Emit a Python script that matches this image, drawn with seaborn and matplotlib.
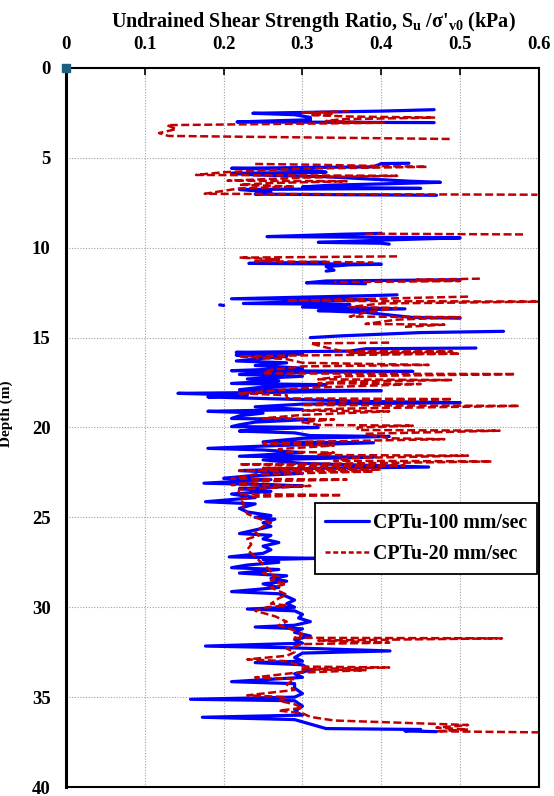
import numpy as np
import pandas as pd
import matplotlib
matplotlib.use("Agg")
import matplotlib.pyplot as plt
from matplotlib.lines import Line2D
import seaborn as sns

nan = np.nan

# CPTu at 100 mm/sec: depth (m) and Su/sigma'v0, NaN marks a break in the record
depth_100 = [2.32, 2.40, 2.52, 2.60, 2.75, 2.88, 3.00, 3.04, nan,
             5.30, 5.32, 5.50, 5.58, 5.65, 5.80, 5.86, 5.95, 6.05, 6.30, 6.36, 6.45, 6.52, 6.62, 6.70, 6.76, 6.90, 7.02, 7.08, nan,
             9.20, 9.25, 9.38, 9.45, 9.55, 9.70, 9.75, 9.80, nan,
             10.80, 10.87, 10.92, 10.95, 11.05, 11.25, 11.30, nan,
             11.78, 11.85, 11.95, 12.00, nan,
             12.62, 12.66, 12.84, 12.88, 13.10, 13.15, 13.30, 13.40, 13.50, 13.60, 13.88, 13.92, nan,
             13.18, 13.21, nan,
             14.65, 14.72, 14.90, 15.00, nan,
             15.58, 15.62, 15.75, 15.82, 15.90, 15.97, 16.05, 16.15, 16.30, 16.40, 16.55, 16.70, 16.84, 16.88,
             16.95, 17.05, 17.15, 17.30, 17.40, 17.55, 17.62, 17.75, 17.90, 17.95, 18.05, 18.10, 18.20, 18.30,
             18.40, 18.55, 18.62, 18.70, 18.85, 19.00, 19.10, 19.20, 19.35, 19.50, 19.55, 19.70, 19.85, 19.95,
             20.00, 20.10, 20.20, 20.30, 20.45, 20.50, 20.60, 20.80, 20.85, 21.00, 21.16, 21.25, 21.40, 21.60,
             21.65, 21.80, 22.00, 22.20, 22.27, 22.40, 22.55, 22.70, 22.83, 22.90, 23.10, 23.18, 23.25, 23.40,
             23.55, 23.70, 23.90, 24.13, 24.25, 24.50, 24.70, 24.90, 25.00, 25.10, 25.30, 25.50, 25.70, 25.90,
             26.00, 26.20, 26.40, 26.60, 26.80, 27.00, 27.20, 27.28, 27.35, 27.50, 27.65, 27.80, 27.90, 28.10,
             28.25, 28.40, 28.55, 28.70, 28.90, 29.13, 29.25, 29.40, 29.60, 29.80, 30.00, 30.10, 30.20, 30.40,
             30.60, 30.80, 31.00, 31.10, 31.20, 31.40, 31.60, 31.80, 32.00, 32.16, 32.25, 32.43, 32.55, 32.80,
             33.00, 33.08, 33.20, 33.50, 33.70, 33.90, 34.14, 34.25, 34.50, 34.80, 35.00, 35.12, 35.20, 35.50,
             35.80, 36.00, 36.12, 36.25, 36.50, 36.75, 36.80, 36.88, 36.92]
su_100 = [0.467, 0.40, 0.237, 0.29, 0.31, 0.31, 0.217, 0.467, nan,
          0.435, 0.40, 0.39, 0.21, 0.30, 0.33, 0.21, 0.24, 0.33, 0.437, 0.475, 0.40, 0.335, 0.30, 0.45, 0.22, 0.26, 0.24, 0.47, nan,
          0.40, 0.35, 0.255, 0.50, 0.42, 0.32, 0.40, 0.41, nan,
          0.33, 0.232, 0.40, 0.36, 0.33, 0.34, 0.33, nan,
          0.50, 0.33, 0.305, 0.38, nan,
          0.42, 0.39, 0.21, 0.39, 0.225, 0.36, 0.30, 0.43, 0.32, 0.38, 0.44, 0.50, nan,
          0.195, 0.200, nan,
          0.555, 0.45, 0.35, 0.31, nan,
          0.52, 0.38, 0.36, 0.216, 0.30, 0.216, 0.28, 0.25, 0.216, 0.28, 0.24, 0.30, 0.21, 0.44,
          0.25, 0.22, 0.30, 0.23, 0.27, 0.21, 0.33, 0.25, 0.22, 0.40, 0.26, 0.142, 0.23, 0.18,
          0.26, 0.38, 0.50, 0.30, 0.24, 0.30, 0.18, 0.25, 0.22, 0.21, 0.31, 0.24, 0.22, 0.21,
          0.32, 0.24, 0.22, 0.29, 0.31, 0.41, 0.30, 0.25, 0.39, 0.27, 0.18, 0.25, 0.30, 0.22,
          0.39, 0.25, 0.30, 0.46, 0.32, 0.22, 0.30, 0.23, 0.20, 0.26, 0.175, 0.26, 0.30, 0.22,
          0.26, 0.21, 0.24, 0.177, 0.24, 0.22, 0.23, 0.26, 0.24, 0.265, 0.25, 0.26, 0.24, 0.22,
          0.26, 0.25, 0.27, 0.25, 0.26, 0.25, 0.207, 0.32, 0.25, 0.27, 0.23, 0.21, 0.27, 0.22,
          0.28, 0.26, 0.28, 0.25, 0.27, 0.21, 0.27, 0.28, 0.29, 0.28, 0.29, 0.23, 0.29, 0.30,
          0.295, 0.31, 0.29, 0.24, 0.30, 0.29, 0.31, 0.29, 0.30, 0.177, 0.28, 0.411, 0.30, 0.29,
          0.30, 0.24, 0.30, 0.31, 0.29, 0.30, 0.21, 0.29, 0.29, 0.30, 0.29, 0.158, 0.29, 0.30,
          0.29, 0.30, 0.173, 0.29, 0.31, 0.33, 0.45, 0.43, 0.47]

# CPTu at 20 mm/sec
depth_20 = [2.40, 2.48, 2.55, 2.62, 2.70, 2.76, 2.85, 2.95, 3.05, 3.18, 3.40, 3.62, 3.78, 3.95, nan,
            5.34, 5.38, 5.50, 5.60, 5.80, 5.95, 6.00, 6.10, 6.27, 6.30, 6.40, 6.50, 6.60, 6.70, 6.90, 7.00, 7.05, nan,
            9.22, 9.26, nan,
            10.48, 10.55, 10.65, 10.75, 10.82, nan,
            11.72, 11.78, 11.85, 11.92, nan,
            12.72, 12.76, 12.95, 13.00, 13.10, 13.30, 13.35, 13.60, 13.83, 13.86, 14.00, 14.24, 14.28, 14.40, nan,
            15.28, 15.32, 15.55, 15.75, 15.78, 15.85, 15.90, 16.00, 16.05, 16.20, 16.40, 16.52, 16.60, 16.80,
            16.99, 17.03, 17.15, 17.32, 17.36, 17.45, 17.54, 17.58, 17.80, 18.00, 18.10, 18.20, 18.38, 18.42,
            18.55, 18.75, 18.80, 18.95, 19.06, 19.10, 19.30, 19.49, 19.55, 19.70, 19.86, 19.90, 20.00, 20.14,
            20.18, 20.35, 20.60, 20.65, 20.80, 20.90, 21.00, 21.20, 21.35, 21.40, 21.53, 21.57, 21.70, 21.85,
            21.89, 22.00, 22.05, 22.12, 22.25, 22.33, 22.40, 22.45, 22.60, 22.85, 22.90, 23.00, 23.20, 23.25,
            23.45, 23.70, 23.76, 23.85, 24.00, 24.20, 24.50, 24.80, 25.00, 25.30, 25.50, 25.80, 26.00, 26.20,
            26.50, 26.80, 27.00, 27.20, 27.40, 27.60, 27.80, 28.00, 28.10, 28.30, 28.50, 28.70, 28.90, 29.10,
            29.30, 29.50, 29.80, 29.90, 30.00, 30.20, 30.50, 30.80, 31.00, 31.30, 31.50, 31.70, 31.73, 31.85,
            31.97, 32.05, 32.30, 32.50, 32.70, 32.90, 33.00, 33.30, 33.35, 33.45, 33.50, 33.65, 33.90, 34.00,
            34.30, 34.60, 34.90, 35.00, 35.20, 35.40, 35.60, 35.75, 35.90, 36.10, 36.30, 36.55, 36.70, 36.80,
            36.90, 36.96]
su_20 = [0.36, 0.30, 0.34, 0.31, 0.36, 0.467, 0.35, 0.33, 0.403, 0.128, 0.14, 0.118, 0.13, 0.487, nan,
         0.24, 0.31, 0.458, 0.30, 0.20, 0.165, 0.42, 0.30, 0.205, 0.356, 0.26, 0.22, 0.29, 0.22, 0.19, 0.176, 0.598, nan,
         0.38, 0.58, nan,
         0.42, 0.22, 0.27, 0.24, 0.39, nan,
         0.525, 0.445, 0.50, 0.34, nan,
         0.51, 0.47, 0.28, 0.60, 0.40, 0.36, 0.42, 0.38, 0.36, 0.50, 0.42, 0.38, 0.48, 0.43, nan,
         0.41, 0.31, 0.33, 0.35, 0.49, 0.36, 0.50, 0.28, 0.22, 0.28, 0.30, 0.46, 0.30, 0.26,
         0.25, 0.57, 0.35, 0.32, 0.49, 0.35, 0.32, 0.45, 0.30, 0.25, 0.22, 0.28, 0.28, 0.49,
         0.35, 0.30, 0.575, 0.35, 0.30, 0.41, 0.30, 0.25, 0.34, 0.30, 0.32, 0.44, 0.37, 0.37,
         0.55, 0.38, 0.41, 0.48, 0.30, 0.25, 0.34, 0.27, 0.28, 0.34, 0.32, 0.51, 0.36, 0.34,
         0.54, 0.36, 0.22, 0.43, 0.25, 0.40, 0.22, 0.39, 0.24, 0.21, 0.356, 0.24, 0.21, 0.31,
         0.22, 0.218, 0.35, 0.24, 0.22, 0.225, 0.225, 0.23, 0.24, 0.26, 0.25, 0.24, 0.245, 0.23,
         0.235, 0.23, 0.235, 0.24, 0.245, 0.25, 0.255, 0.26, 0.25, 0.27, 0.26, 0.28, 0.26, 0.27,
         0.28, 0.27, 0.26, 0.28, 0.255, 0.24, 0.265, 0.28, 0.27, 0.29, 0.30, 0.29, 0.553, 0.32,
         0.41, 0.30, 0.28, 0.29, 0.28, 0.23, 0.28, 0.30, 0.41, 0.30, 0.38, 0.29, 0.24, 0.29,
         0.28, 0.29, 0.23, 0.28, 0.27, 0.29, 0.30, 0.27, 0.30, 0.31, 0.34, 0.51, 0.47, 0.51,
         0.47, 0.60]

origin_su = [0.0]
origin_depth = [0.0]

x_ticks = [0, 0.1, 0.2, 0.3, 0.4, 0.5, 0.6]
x_tick_labels = ["0", "0.1", "0.2", "0.3", "0.4", "0.5", "0.6"]
y_ticks = [0, 5, 10, 15, 20, 25, 30, 35, 40]

label_fast = "CPTu-100 mm/sec"
label_slow = "CPTu-20 mm/sec"


def to_frame(depth, su):
    d = np.asarray(depth, dtype=float)
    s = np.asarray(su, dtype=float)
    seg = np.cumsum(np.isnan(d))
    df = pd.DataFrame({"depth": d, "su": s, "seg": seg})
    return df.dropna().reset_index(drop=True)


sns.set_theme(style="white")
plt.rcParams["font.family"] = ["Liberation Serif", "DejaVu Serif"]
plt.rcParams["font.weight"] = "bold"
plt.rcParams["text.color"] = "black"
plt.rcParams["axes.labelcolor"] = "black"
plt.rcParams["xtick.color"] = "black"
plt.rcParams["ytick.color"] = "black"
plt.rcParams["mathtext.fontset"] = "custom"
plt.rcParams["mathtext.rm"] = "Liberation Serif:bold"
plt.rcParams["mathtext.bf"] = "Liberation Serif:bold"
plt.rcParams["mathtext.it"] = "Liberation Serif:bold"

fig = plt.figure(figsize=(5.54, 7.96), dpi=100)
ax = fig.add_axes([0.1191, 0.0113, 0.8538, 0.9033])

blue = "#0000FF"
red = "#C00000"
slow_dashes = (3.2, 1.4)

fast = to_frame(depth_100, su_100)
slow = to_frame(depth_20, su_20)

sns.lineplot(data=fast, x="su", y="depth", units="seg", estimator=None, sort=False,
             color=blue, linewidth=2.3, ax=ax, legend=False)
n_fast = len(ax.get_lines())
sns.lineplot(data=slow, x="su", y="depth", units="seg", estimator=None, sort=False,
             color=red, linewidth=1.8, ax=ax, legend=False)
# the slow-rate trace is drawn dashed
for line in ax.get_lines()[n_fast:]:
    line.set_dashes(slow_dashes)

ax.plot(origin_su, origin_depth, marker="s", ms=6, color="#1f6080",
        markeredgecolor="#1f6080", clip_on=False, zorder=5)

ax.set_xlim(0, 0.6)
ax.set_ylim(40, 0)
ax.set_xticks(x_ticks)
ax.set_xticklabels(x_tick_labels)
ax.set_yticks(y_ticks)
ax.xaxis.tick_top()
ax.xaxis.set_label_position("top")
ax.tick_params(axis="both", direction="in", length=5, width=1.2, labelsize=13.5,
               colors="black")
ax.tick_params(axis="y", pad=11)
ax.tick_params(axis="x", pad=11)
ax.grid(True, color="#a0a0a0", linestyle=(0, (1, 1.5)), linewidth=0.8)
for side, sp in ax.spines.items():
    sp.set_color("black")
    sp.set_linewidth(1.5)
ax.spines["left"].set_linewidth(2.2)

ax.set_xlabel(r"Undrained Shear Strength Ratio, S$_{\mathrm{u}}$ /σ'$_{\mathrm{v0}}$ (kPa)",
              fontsize=14.5, fontweight="bold", labelpad=6)
ax.xaxis.label.set_x(0.523)
ax.set_ylabel("Depth (m)", fontsize=11, fontweight="bold")
ax.yaxis.set_label_coords(-0.112, 0.519)
for lab in ax.get_xticklabels() + ax.get_yticklabels():
    lab.set_fontweight("bold")

handles = [Line2D([], [], color=blue, linewidth=2.3),
           Line2D([], [], color=red, linewidth=1.8, dashes=(2.0, 1.1))]
leg = ax.legend(handles, [label_fast, label_slow], loc="upper right",
                bbox_to_anchor=(0.996, 0.395), borderaxespad=0, frameon=True,
                fancybox=False, edgecolor="black", framealpha=1,
                prop={"family": "Liberation Serif", "weight": "bold", "size": 14.3},
                handlelength=2.2, handletextpad=0.2, borderpad=0.5, labelspacing=0.55)
leg.get_frame().set_linewidth(1.3)

fig.savefig("out.png", dpi=100)
